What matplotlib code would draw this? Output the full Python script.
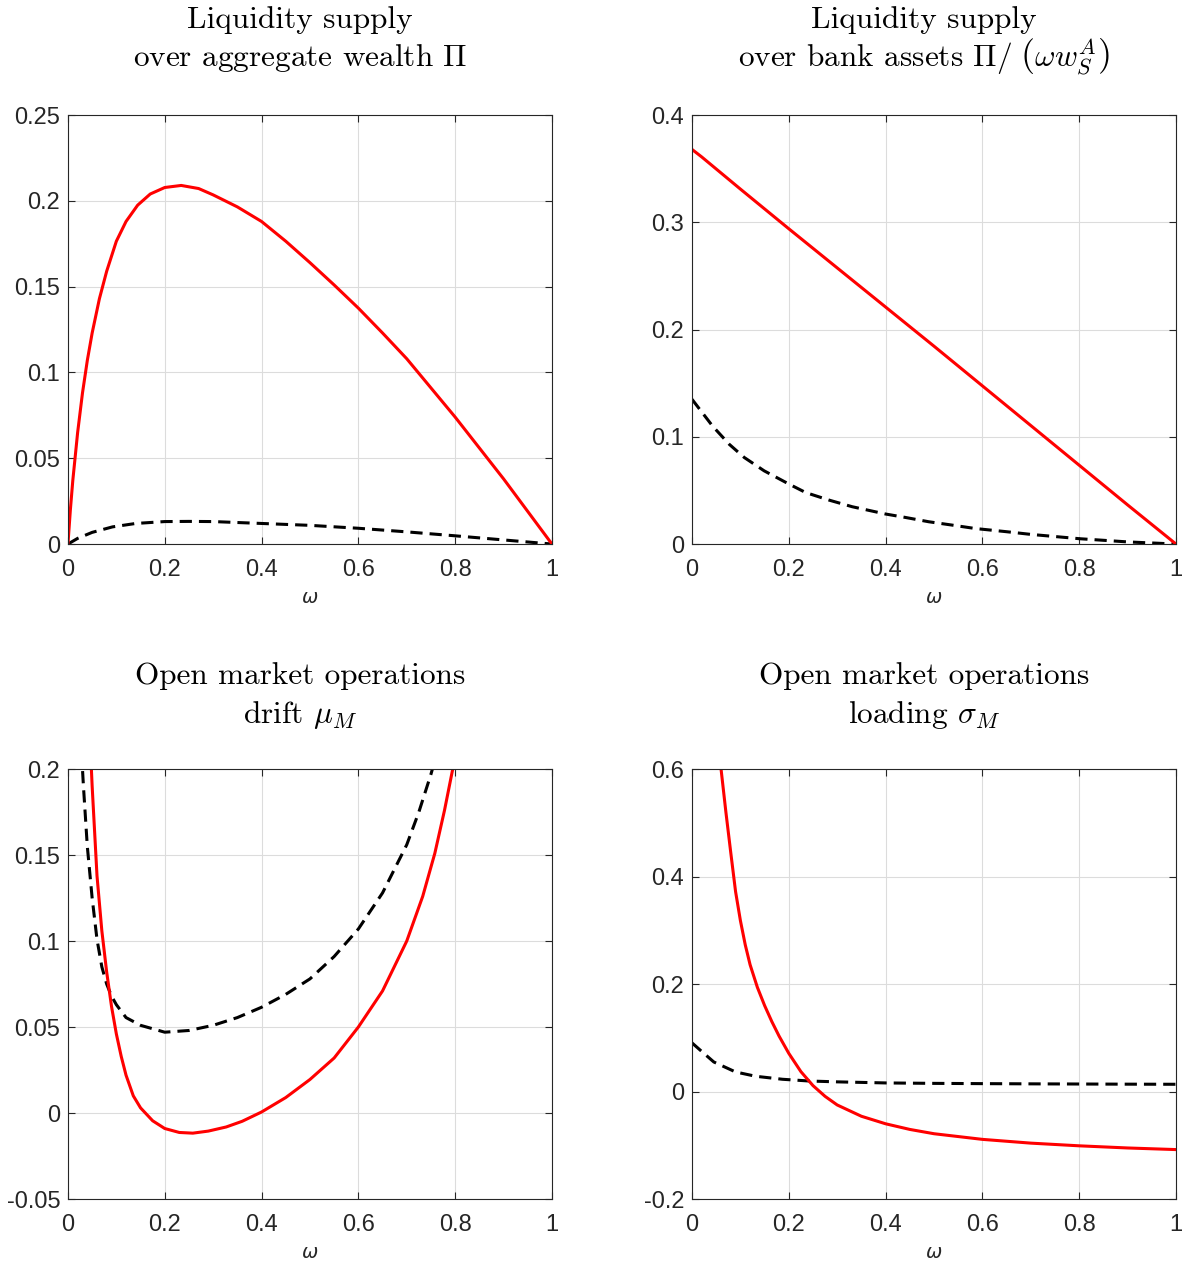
import matplotlib
matplotlib.use("Agg")
import matplotlib.pyplot as plt

plt.rcParams['font.family'] = ['Liberation Sans', 'DejaVu Sans']
plt.rcParams['mathtext.fontset'] = 'cm'

# panel 1: liquidity supply over aggregate wealth
w1_red = [0, 0.005, 0.01, 0.02, 0.03, 0.04, 0.05, 0.065, 0.08, 0.1, 0.12, 0.144, 0.17, 0.2,
          0.234, 0.27, 0.3, 0.35, 0.4, 0.45, 0.5, 0.55, 0.6, 0.65, 0.7, 0.75, 0.8, 0.85, 0.9,
          0.95, 1.0]
p1_red = [0, 0.02, 0.037, 0.065, 0.088, 0.107, 0.123, 0.143, 0.159, 0.1765, 0.188, 0.1975,
          0.204, 0.2078, 0.209, 0.2072, 0.2035, 0.1965, 0.188, 0.1765, 0.164, 0.151, 0.1375,
          0.123, 0.108, 0.091, 0.074, 0.056, 0.038, 0.019, 0]
w1_blk = [0, 0.02, 0.05, 0.092, 0.14, 0.2, 0.25, 0.3, 0.4, 0.5, 0.6, 0.7, 0.8, 0.9, 1.0]
p1_blk = [0, 0.0033, 0.0068, 0.01, 0.012, 0.0131, 0.0132, 0.0131, 0.012, 0.0109, 0.0092,
          0.0071, 0.0048, 0.0024, 0]

# panel 2: liquidity supply over bank assets
w2_red = [0, 0.01, 0.02, 0.1, 0.2, 0.3, 0.4, 0.5, 0.6, 0.7, 0.8, 0.9, 1.0]
p2_red = [0.368, 0.3645, 0.361, 0.331, 0.294, 0.2575, 0.221, 0.1845, 0.1475, 0.1105, 0.0735,
          0.0365, 0]
w2_blk = [0, 0.0425, 0.077, 0.108, 0.149, 0.2, 0.235, 0.283, 0.331, 0.4, 0.441, 0.489, 0.537,
          0.585, 0.65, 0.7, 0.8, 0.9, 1.0]
p2_blk = [0.135, 0.11, 0.093, 0.0807, 0.0683, 0.056, 0.048, 0.041, 0.0348, 0.028, 0.0248,
          0.0208, 0.0177, 0.0145, 0.0115, 0.009, 0.005, 0.002, 0]

# panel 3: open market operations drift
w3_red = [0.046, 0.05, 0.06, 0.07, 0.08, 0.09, 0.1, 0.11, 0.12, 0.135, 0.15, 0.175, 0.2, 0.23,
          0.258, 0.29, 0.327, 0.36, 0.4, 0.45, 0.5, 0.55, 0.6, 0.65, 0.7, 0.733, 0.758, 0.778,
          0.795, 0.8]
mu_red = [0.215, 0.19, 0.138, 0.106, 0.082, 0.062, 0.046, 0.033, 0.022, 0.01, 0.003, -0.0045,
          -0.009, -0.0113, -0.0117, -0.0105, -0.0081, -0.0048, 0.0006, 0.009, 0.0195, 0.032,
          0.05, 0.071, 0.1, 0.126, 0.151, 0.176, 0.2, 0.207]
w3_blk = [0.028, 0.032, 0.04, 0.05, 0.06, 0.07, 0.08, 0.09, 0.1, 0.12, 0.15, 0.2, 0.25, 0.3,
          0.35, 0.4, 0.45, 0.5, 0.55, 0.6, 0.65, 0.7, 0.725, 0.75, 0.755]
mu_blk = [0.21, 0.19, 0.155, 0.125, 0.101, 0.085, 0.075, 0.068, 0.063, 0.0555, 0.051, 0.047,
          0.048, 0.051, 0.0555, 0.0615, 0.069, 0.078, 0.091, 0.107, 0.128, 0.156, 0.175, 0.197,
          0.202]

# panel 4: open market operations loading
w4_red = [0.057, 0.06, 0.07, 0.08, 0.09, 0.1, 0.11, 0.12, 0.135, 0.15, 0.165, 0.18, 0.2, 0.225,
          0.25, 0.275, 0.3, 0.35, 0.4, 0.45, 0.5, 0.6, 0.7, 0.8, 0.9, 1.0]
s4_red = [0.63, 0.6, 0.52, 0.445, 0.372, 0.318, 0.273, 0.236, 0.194, 0.16, 0.13, 0.103, 0.071,
          0.037, 0.011, -0.009, -0.025, -0.046, -0.06, -0.0705, -0.0785, -0.089, -0.096,
          -0.101, -0.105, -0.108]
w4_blk = [0, 0.017, 0.045, 0.09, 0.1315, 0.187, 0.242, 0.3, 0.4, 0.5, 0.6, 0.7, 0.8, 0.9, 1.0]
s4_blk = [0.0905, 0.077, 0.055, 0.0364, 0.0284, 0.0228, 0.0196, 0.018, 0.016, 0.0152, 0.0147,
          0.0143, 0.014, 0.0137, 0.0135]

x_ticks = [0, 0.2, 0.4, 0.6, 0.8, 1.0]
x_labels = ['0', '0.2', '0.4', '0.6', '0.8', '1']

panels = [
    dict(red=(w1_red, p1_red), blk=(w1_blk, p1_blk), ylim=(0, 0.25),
         yt=[0, 0.05, 0.1, 0.15, 0.2, 0.25], yl=['0', '0.05', '0.1', '0.15', '0.2', '0.25'],
         title=['Liquidity supply', 'over aggregate wealth $\\Pi$']),
    dict(red=(w2_red, p2_red), blk=(w2_blk, p2_blk), ylim=(0, 0.4),
         yt=[0, 0.1, 0.2, 0.3, 0.4], yl=['0', '0.1', '0.2', '0.3', '0.4'],
         title=['Liquidity supply', 'over bank assets $\\Pi/\\ \\left(\\omega w_S^A\\right)$']),
    dict(red=(w3_red, mu_red), blk=(w3_blk, mu_blk), ylim=(-0.05, 0.2),
         yt=[-0.05, 0, 0.05, 0.1, 0.15, 0.2], yl=['-0.05', '0', '0.05', '0.1', '0.15', '0.2'],
         title=['Open market operations', 'drift $\\mu_M$']),
    dict(red=(w4_red, s4_red), blk=(w4_blk, s4_blk), ylim=(-0.2, 0.6),
         yt=[-0.2, 0, 0.2, 0.4, 0.6], yl=['-0.2', '0', '0.2', '0.4', '0.6'],
         title=['Open market operations', 'loading $\\sigma_M$']),
]

fig = plt.figure(figsize=(11.88, 12.62), dpi=100)
rects = [[0.0572, 0.5689, 0.4074, 0.3399], [0.5825, 0.5689, 0.4074, 0.3399],
         [0.0572, 0.0499, 0.4074, 0.3407], [0.5825, 0.0499, 0.4074, 0.3407]]
title_offsets = [[63, 35], [63, 35], [61, 33], [61, 33]]

axis_col = '#262626'
for rect, p, offs in zip(rects, panels, title_offsets):
    ax = fig.add_axes(rect)
    ax.plot(*p['blk'], color='black', lw=2.2, dashes=(4, 2.3))
    ax.plot(*p['red'], color='red', lw=2.2)
    ax.set_xlim(0, 1)
    ax.set_ylim(*p['ylim'])
    ax.set_xticks(x_ticks)
    ax.set_xticklabels(x_labels)
    ax.set_yticks(p['yt'])
    ax.set_yticklabels(p['yl'])
    ax.grid(True, color='#dcdcdc', lw=0.8)
    ax.set_axisbelow(True)
    ax.tick_params(direction='in', top=True, right=True, labelsize=17,
                   colors=axis_col, length=5, width=0.8)
    ax.tick_params(axis='x', pad=10.5)
    ax.tick_params(axis='y', pad=5.5)
    for s in ax.spines.values():
        s.set_color(axis_col)
        s.set_linewidth(0.8)
    ax.set_xlabel('$\\omega$', fontsize=14, color=axis_col, math_fontfamily='dejavusans',
                  labelpad=7)
    # two title lines placed on fixed baselines
    for line, off in zip(p['title'], offs):
        ax.annotate(line, xy=(0.5, 1), xycoords='axes fraction', xytext=(-7, off),
                    textcoords='offset points', ha='center', va='baseline',
                    fontsize=22.5, family='cmr10')

fig.savefig('out.png', dpi=100)
plt.close(fig)
